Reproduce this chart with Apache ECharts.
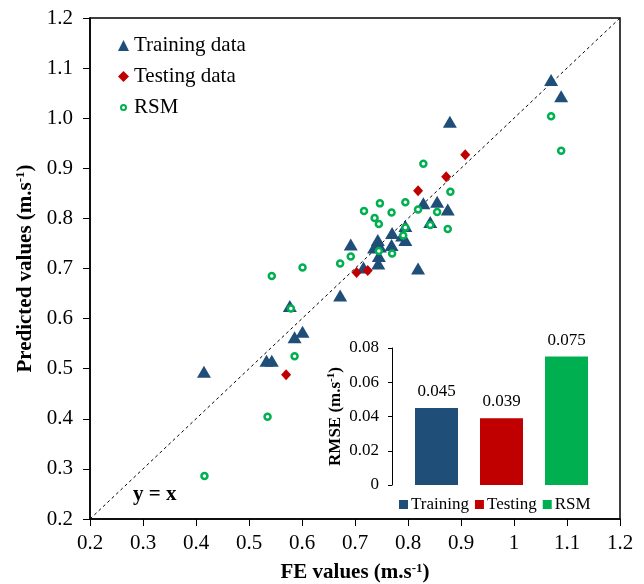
<!DOCTYPE html>
<html>
<head>
<meta charset="utf-8">
<script src="https://cdn.jsdelivr.net/npm/echarts@6/dist/echarts.min.js"></script>
<style>
html,body{margin:0;padding:0;background:#fff;}
#chart{width:644px;height:584px;}
</style>
</head>
<body>
<div id="chart"></div>
<script>
// ---- data ----
const trainFE   = [1.070,1.089,0.879,0.829,0.855,0.875,0.842,0.795,0.770,0.789,0.795,0.743,0.692,0.769,0.736,0.747,0.745,0.744,0.716,0.819,0.672,0.577,0.601,0.586,0.533,0.543,0.415];
const trainPred = [1.076,1.044,0.993,0.830,0.833,0.818,0.793,0.785,0.771,0.766,0.757,0.757,0.748,0.747,0.742,0.744,0.725,0.710,0.702,0.700,0.646,0.625,0.574,0.563,0.516,0.516,0.494];
const testFE    = [0.908,0.872,0.819,0.703,0.724,0.570];
const testPred  = [0.927,0.883,0.855,0.692,0.696,0.488];
const rsmFE     = [1.070,1.089,0.829,0.880,0.747,0.795,0.717,0.769,0.819,0.855,0.737,0.745,0.842,0.875,0.795,0.791,0.745,0.770,0.692,0.672,0.601,0.543,0.579,0.586,0.535,0.416];
const rsmPred   = [1.004,0.935,0.909,0.853,0.830,0.832,0.815,0.812,0.818,0.813,0.801,0.789,0.787,0.779,0.782,0.766,0.735,0.730,0.724,0.710,0.702,0.685,0.620,0.525,0.404,0.286];
const identityLine = [[0.2,0.2],[1.2,1.2]];
const rmseCategories = ['Training','Testing','RSM'];
const rmseValues = [0.045,0.039,0.075];
const mainTicksMin = 0.2, mainTicksMax = 1.2, mainTickStep = 0.1;
const insetTicksMax = 0.08, insetTickStep = 0.02;

const C_TRAIN = '#1F4E79', C_TEST = '#C00000', C_RSM = '#00B050';
const FONT = 'Liberation Serif';
const pair = (a,b) => a.map((v,i)=>[v,b[i]]);

const chart = echarts.init(document.getElementById('chart'), null, {renderer:'canvas'});

function barData(idx){ return rmseValues.map((v,i)=> i===idx ? v : '-'); }
const barColors = [C_TRAIN, C_TEST, C_RSM];
const supRich = (fs)=>({sup:{fontFamily:FONT, fontSize:fs, fontWeight:'bold', color:'#000', verticalAlign:'top', padding:[0,0,Math.round(fs*0.7),0]}});

const option = {
  backgroundColor:'#fff',
  animation:false,
  textStyle:{fontFamily:FONT, color:'#000'},
  grid:[
    {left:90, top:18, width:530, height:501, show:true, borderColor:'#000', borderWidth:1.5, backgroundColor:'transparent', containLabel:false, outerBoundsMode:'none'},
    {left:404, top:348, width:195, height:137, containLabel:false, outerBoundsMode:'none'}
  ],
  xAxis:[
    {type:'value', gridIndex:0, min:mainTicksMin, max:mainTicksMax, interval:mainTickStep,
     axisLine:{show:true, lineStyle:{color:'#000', width:1.5}},
     axisTick:{show:true, length:7, inside:false, lineStyle:{color:'#000'}},
     splitLine:{show:false},
     axisLabel:{fontFamily:FONT, fontSize:21, color:'#000', margin:14,
       formatter:v=>String(Math.round(v*10)/10)},
     name:'FE values (m.s{sup|-1})', nameLocation:'middle', nameGap:43,
     nameTextStyle:{fontFamily:FONT, fontSize:21, fontWeight:'bold', color:'#000', rich:supRich(13)}
    },
    {type:'category', gridIndex:1, data:rmseCategories,
     axisLine:{show:false}, axisTick:{show:false}, axisLabel:{show:false}, splitLine:{show:false}}
  ],
  yAxis:[
    {type:'value', gridIndex:0, min:mainTicksMin, max:mainTicksMax, interval:mainTickStep,
     axisLine:{show:true, lineStyle:{color:'#000', width:1.5}},
     axisTick:{show:true, length:7, inside:false, lineStyle:{color:'#000'}},
     splitLine:{show:false},
     axisLabel:{fontFamily:FONT, fontSize:21, color:'#000', margin:17,
       formatter:v=>v.toFixed(1)},
     name:'Predicted values (m.s{sup|-1})', nameLocation:'middle', nameGap:53,
     nameTextStyle:{fontFamily:FONT, fontSize:21, fontWeight:'bold', color:'#000', rich:supRich(13)}
    },
    {type:'value', gridIndex:1, min:0, max:insetTicksMax, interval:insetTickStep, offset:12,
     axisLine:{show:true, lineStyle:{color:'#000', width:1}},
     axisTick:{show:true, length:4, inside:false, lineStyle:{color:'#000'}},
     splitLine:{show:false},
     axisLabel:{fontFamily:FONT, fontSize:17, color:'#000', margin:13,
       formatter:v=> v===0 ? '0' : v.toFixed(2)},
     name:'RMSE (m.s{sup|-1})', nameLocation:'middle', nameGap:47,
     nameTextStyle:{fontFamily:FONT, fontSize:17, fontWeight:'bold', color:'#000', rich:supRich(11)}
    }
  ],
  legend:[
    {orient:'vertical', left:112, top:30, itemWidth:11, itemHeight:11, itemGap:10,
     data:[
       {name:'Training data', icon:'triangle', itemStyle:{color:C_TRAIN, borderWidth:0}},
       {name:'Testing data', icon:'diamond', itemStyle:{color:C_TEST, borderWidth:0}},
       {name:'RSM', icon:'path://M0,0M22,22M11,6A5,5,0,1,1,11,16A5,5,0,1,1,11,6Z', itemStyle:{color:'#fff', borderColor:C_RSM, borderWidth:2}}
     ],
     textStyle:{fontFamily:FONT, fontSize:21, color:'#000', lineHeight:21}},
    {orient:'horizontal', left:394, top:491, itemWidth:9, itemHeight:9, itemGap:6,
     data:rmseCategories.map((n,i)=>({name:n, icon:'rect', itemStyle:{color:barColors[i], borderWidth:0}})),
     textStyle:{fontFamily:FONT, fontSize:17, color:'#000', padding:[0,0,0,-2]}}
  ],
  graphic:[
    {type:'text', left:133, top:484, style:{text:'y = x', font:'bold 21px "Liberation Serif"', fill:'#000'}}
  ],
  series:[
    {type:'line', xAxisIndex:0, yAxisIndex:0, data:identityLine, symbol:'none', silent:true, z:1,
     lineStyle:{color:'#000', width:1, type:[3,3]}},
    {name:'Training data', type:'scatter', xAxisIndex:0, yAxisIndex:0, data:pair(trainFE,trainPred),
     symbol:'triangle', symbolSize:[14,12], itemStyle:{color:C_TRAIN, opacity:1}, z:3},
    {name:'Testing data', type:'scatter', xAxisIndex:0, yAxisIndex:0, data:pair(testFE,testPred),
     symbol:'diamond', symbolSize:[10,11], itemStyle:{color:C_TEST, opacity:1}, z:4},
    {name:'RSM', type:'scatter', xAxisIndex:0, yAxisIndex:0, data:pair(rsmFE,rsmPred),
     symbol:'circle', symbolSize:6, itemStyle:{color:'#fff', borderColor:C_RSM, borderWidth:2.5, opacity:1}, z:5},
    ...rmseCategories.map((n,i)=>({
      name:n, type:'bar', xAxisIndex:1, yAxisIndex:1, data:barData(i),
      barWidth:43, barGap:'-100%', itemStyle:{color:barColors[i]},
      label:{show:true, position:'top', distance:8, fontFamily:FONT, fontSize:17, color:'#000',
        formatter:p=>p.value.toFixed(3)}
    }))
  ]
};
chart.setOption(option);
</script>
</body>
</html>
